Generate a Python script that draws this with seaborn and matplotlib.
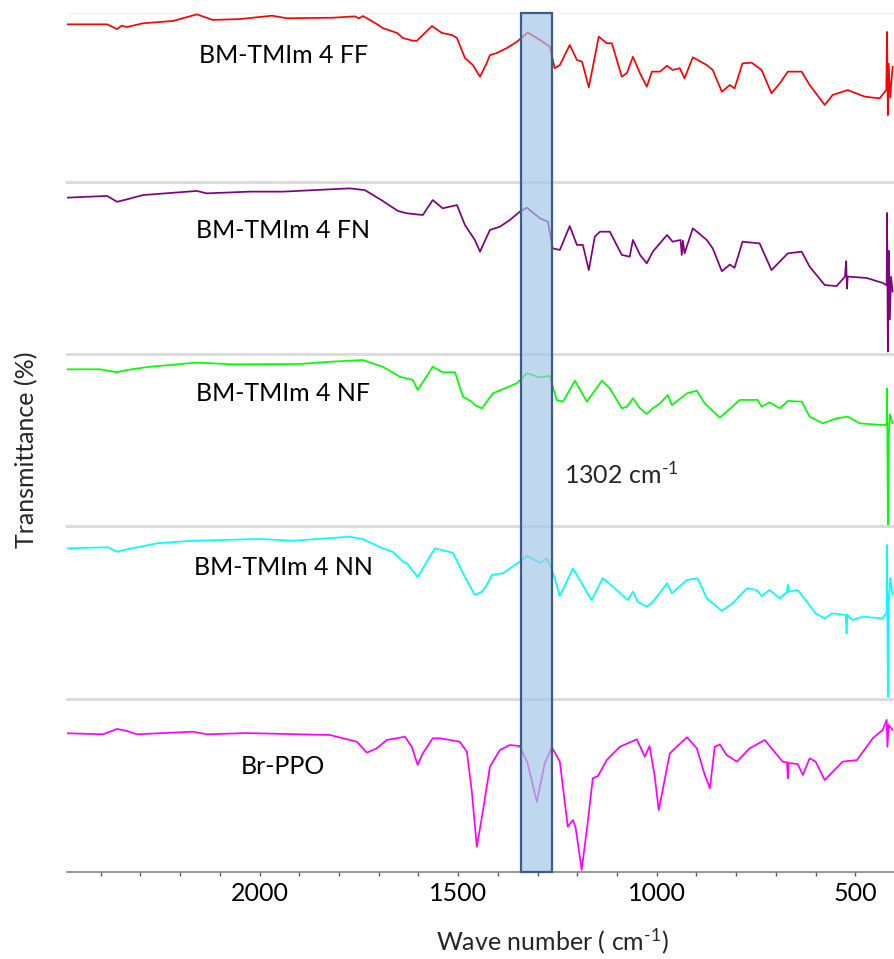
import matplotlib
matplotlib.use("Agg")
import matplotlib.pyplot as plt
import seaborn as sns
import pandas as pd
from matplotlib.patches import Rectangle
from matplotlib.transforms import blended_transform_factory

# ---- FTIR spectra (wavenumber in cm-1, relative transmittance per panel) ----
ff_wn = [2485, 2384, 2359, 2347, 2334, 2294, 2218, 2158, 2118, 2050, 1969, 1931, 1816, 1760, 1750,
         1740, 1730, 1705, 1690, 1654, 1639, 1614, 1604, 1589, 1566, 1541, 1516, 1503, 1483, 1463,
         1445, 1428, 1420, 1403, 1377, 1352, 1325, 1294, 1269, 1257, 1244, 1219, 1201, 1188, 1171,
         1146, 1126, 1113, 1088, 1075, 1060, 1042, 1025, 1012, 992, 974, 960, 942, 930, 909,
         874, 859, 836, 816, 804, 784, 761, 736, 711, 690, 670, 635, 615, 577, 557,
         519, 476, 439, 422, 420, 418, 416, 412, 406]
ff_t = [93.3, 93.3, 90.5, 92.5, 91.7, 93.9, 95.3, 99.2, 95.9, 96.4, 98.4, 96.9, 97.2, 98.0, 96.8,
        98.2, 96.9, 93.5, 91.1, 88.2, 85.2, 83.6, 83.6, 87.0, 92.3, 88.2, 87.0, 85.2, 73.4, 69.2,
        62.3, 70.4, 75.1, 76.3, 79.3, 83.0, 88.5, 84.0, 80.1, 67.3, 69.2, 81.1, 72.2, 71.2, 56.0,
        86.0, 82.1, 82.1, 62.3, 64.5, 74.1, 64.3, 56.4, 65.3, 65.3, 68.8, 66.3, 67.3, 61.4, 73.8,
        69.2, 66.3, 53.4, 57.4, 55.4, 70.2, 70.6, 66.3, 52.5, 58.4, 65.3, 65.3, 57.4, 45.6, 51.5,
        54.4, 50.5, 49.5, 54.4, 88.8, 39.6, 70.0, 50.0, 68.2]

fn_wn = [2485, 2384, 2359, 2334, 2294, 2158, 2133, 2024, 1941, 1773, 1735, 1690, 1652, 1629, 1589,
         1564, 1539, 1503, 1483, 1458, 1445, 1428, 1420, 1395, 1370, 1345, 1327, 1294, 1274, 1262,
         1244, 1219, 1201, 1186, 1171, 1156, 1143, 1118, 1088, 1068, 1060, 1042, 1025, 1010, 974,
         960, 940, 937, 934, 930, 909, 874, 859, 836, 816, 804, 784, 741, 711, 670,
         635, 615, 577, 547, 526, 523, 521, 519, 471, 431, 421, 420, 418, 416, 413,
         410, 406]
fn_t = [90.9, 91.9, 88.5, 89.9, 92.4, 94.8, 93.4, 94.4, 94.4, 96.3, 95.3, 89.0, 83.2, 81.8, 80.8,
        89.5, 84.7, 86.6, 75.0, 66.3, 59.5, 68.2, 72.1, 74.0, 77.9, 82.7, 85.1, 78.9, 76.9, 61.4,
        60.5, 74.4, 63.4, 63.4, 48.8, 68.2, 71.1, 71.1, 57.6, 56.6, 66.3, 57.6, 52.7, 59.5, 69.2,
        65.3, 66.3, 57.6, 66.0, 58.5, 73.1, 66.3, 61.4, 48.1, 52.0, 50.1, 65.3, 64.3, 48.8, 58.5,
        59.5, 50.8, 40.1, 39.5, 45.0, 54.0, 38.0, 45.0, 44.2, 41.3, 40.0, 82.0, 1.4, 60.0, 20.0,
        45.0, 36.2]

nf_wn = [2485, 2402, 2359, 2334, 2276, 2158, 2067, 1899, 1823, 1740, 1690, 1647, 1614, 1602, 1564,
         1539, 1508, 1488, 1466, 1458, 1440, 1413, 1352, 1327, 1294, 1269, 1252, 1236, 1206, 1176,
         1138, 1118, 1088, 1075, 1060, 1042, 1025, 1010, 992, 972, 962, 924, 899, 879, 841,
         791, 746, 736, 716, 690, 670, 635, 615, 582, 547, 519, 489, 431, 421, 420,
         418, 416, 413, 406]
nf_t = [91.1, 91.1, 89.4, 90.7, 92.6, 95.0, 94.0, 94.2, 95.5, 96.5, 92.6, 86.8, 84.9, 79.1, 92.6,
        89.4, 89.4, 75.2, 72.3, 70.3, 68.4, 77.1, 83.0, 88.8, 86.4, 87.2, 73.3, 72.3, 84.5, 72.3,
        84.5, 80.0, 68.4, 69.4, 74.2, 68.4, 65.1, 68.4, 71.3, 76.2, 70.3, 77.1, 78.7, 71.3, 63.0,
        73.3, 73.3, 69.4, 71.9, 68.4, 72.7, 72.3, 63.6, 59.7, 62.6, 63.6, 59.7, 58.7, 59.0, 80.0,
        0.6, 50.0, 65.0, 59.7]

nn_wn = [2485, 2382, 2359, 2334, 2258, 2168, 1999, 1916, 1773, 1740, 1690, 1665, 1639, 1629, 1602,
         1559, 1513, 1488, 1458, 1440, 1428, 1415, 1387, 1345, 1327, 1294, 1277, 1262, 1244, 1211,
         1164, 1136, 1110, 1073, 1060, 1048, 1025, 1010, 974, 962, 924, 897, 874, 836, 809,
         773, 748, 736, 716, 690, 672, 670, 668, 645, 622, 600, 577, 559, 524, 522,
         520, 507, 481, 431, 421, 420, 418, 416, 412, 406]
nn_t = [87.1, 87.7, 85.1, 86.5, 90.0, 91.5, 92.5, 91.5, 93.8, 92.4, 87.1, 85.1, 79.4, 78.4, 70.5,
        87.1, 84.5, 72.7, 60.1, 62.0, 65.9, 71.7, 72.7, 79.4, 82.7, 78.8, 81.3, 73.6, 59.5, 75.5,
        57.2, 69.8, 64.9, 57.2, 62.0, 56.2, 53.4, 56.2, 66.9, 61.1, 68.8, 69.8, 58.2, 51.0, 55.3,
        64.0, 63.0, 59.5, 63.0, 58.2, 62.0, 66.0, 62.0, 63.0, 56.2, 49.5, 46.6, 49.5, 48.6, 38.0,
        48.6, 45.7, 47.6, 46.6, 50.0, 89.0, 1.3, 55.0, 70.0, 60.1]

br_wn = [2485, 2394, 2359, 2334, 2309, 2168, 2133, 2032, 1823, 1790, 1755, 1730, 1705, 1680, 1634,
         1617, 1602, 1589, 1564, 1546, 1521, 1496, 1478, 1466, 1453, 1440, 1420, 1395, 1370, 1345,
         1325, 1302, 1282, 1264, 1244, 1224, 1211, 1204, 1189, 1174, 1161, 1148, 1126, 1093, 1050,
         1030, 1018, 1005, 995, 985, 967, 924, 899, 879, 866, 854, 841, 824, 798, 766,
         728, 683, 672, 670, 668, 645, 632, 615, 600, 577, 532, 496, 456, 431, 421,
         419, 416, 406]
br_t = [80.2, 79.6, 82.7, 81.5, 79.6, 81.1, 79.6, 80.3, 79.2, 77.3, 75.3, 69.0, 71.5, 76.3, 78.2,
        72.4, 61.9, 68.6, 77.3, 77.3, 76.3, 75.3, 69.5, 47.4, 14.6, 32.0, 60.9, 70.5, 73.4, 72.8,
        62.8, 40.6, 62.8, 72.1, 63.8, 26.2, 30.1, 25.3, 1.2, 28.2, 54.2, 55.5, 64.7, 72.4, 76.7,
        66.6, 72.8, 55.1, 35.8, 47.4, 68.6, 77.9, 71.5, 56.1, 48.4, 72.4, 73.8, 67.6, 63.8, 71.5,
        76.3, 63.8, 63.5, 54.2, 63.0, 62.4, 56.1, 65.7, 63.8, 53.2, 63.8, 64.7, 77.3, 82.1, 87.9,
        72.4, 85.0, 82.1]

sample_names = ["BM-TMIm 4 FF", "BM-TMIm 4 FN", "BM-TMIm 4 NF", "BM-TMIm 4 NN", "Br-PPO"]
sample_colors = ["#FF0000", "#800080", "#00FF00", "#00FFFF", "#FF00FF"]
wavenumbers = [ff_wn, fn_wn, nf_wn, nn_wn, br_wn]
transmittance = [ff_t, fn_t, nf_t, nn_t, br_t]

band_hi, band_lo = 1343, 1263          # highlighted region around 1302 cm-1
band_label = r"1302 cm$^{\text{-}1}$"
x_ticks = [2000, 1500, 1000, 500]

# ---- styling ----
sns.set_theme(style="white")
plt.rcParams["font.family"] = ["Lato", "DejaVu Sans"]
plt.rcParams["mathtext.fontset"] = "custom"
plt.rcParams["mathtext.rm"] = "Lato"
plt.rcParams["mathtext.it"] = "Lato"
plt.rcParams["mathtext.bf"] = "Lato:bold"

W, H = 895, 959
fig = plt.figure(figsize=(W / 100, H / 100), dpi=100)
gs = fig.add_gridspec(5, 1, left=67 / W, right=1.0, top=1 - 13 / H, bottom=1 - 872 / H,
                      hspace=0, height_ratios=[169, 172, 172, 173, 173])

label_y = [0.704, 0.674, 0.727, 0.717, 0.566]
axes = []
for i in range(5):
    ax = fig.add_subplot(gs[i], sharex=axes[0] if axes else None)
    axes.append(ax)
    df = pd.DataFrame({"wn": wavenumbers[i], "T": transmittance[i]})
    sns.lineplot(data=df, x="wn", y="T", ax=ax, color=sample_colors[i], lw=1.25,
                 sort=False, estimator=None)
    for ln in ax.get_lines():
        ln.set_solid_joinstyle("round")
    ax.set_ylim(0, 100)
    ax.set_xlabel("")
    ax.set_ylabel("")
    ax.set_yticks([])
    for side in ("left", "right"):
        ax.spines[side].set_visible(False)
    ax.spines["top"].set_color("#F2F2F2" if i == 0 else "#DCDCDC")
    ax.spines["top"].set_linewidth(1.0 if i == 0 else 2.2)
    ax.spines["top"].set_zorder(0)
    if i < 4:
        ax.spines["bottom"].set_visible(False)
        ax.tick_params(axis="x", which="both", bottom=False, labelbottom=False)
    ax.text(0.261, label_y[i], sample_names[i], transform=ax.transAxes,
            ha="center", va="baseline", fontsize=18, color="black")

ax_b = axes[-1]
ax_b.set_xlim(2485, 400)
ax_b.set_xticks(x_ticks)
ax_b.set_xticks(range(2400, 399, -100), minor=True)
ax_b.spines["bottom"].set_color("#8C8C8C")
ax_b.spines["bottom"].set_linewidth(1.3)
ax_b.tick_params(axis="x", which="both", bottom=True, direction="out", length=3,
                 width=1.0, color="#595959", labelsize=18, pad=4, labelcolor="black")

# translucent highlight band across all panels
trans = blended_transform_factory(ax_b.transData, fig.transFigure)
band = Rectangle((band_hi, 1 - 872 / H), band_lo - band_hi, (872 - 13) / H,
                 transform=trans, facecolor=(0.63, 0.776, 0.906, 0.68),
                 edgecolor="#3D5C88", lw=1.6, zorder=20, clip_on=False)
fig.add_artist(band)

fig.text(564 / W, 1 - 484 / H, band_label, ha="left", va="baseline", fontsize=18)
fig.text(27 / W, 1 - 450 / H, "Transmittance (%)", rotation=90, ha="center",
         va="center", fontsize=18)
fig.text(552 / W, 1 - 950 / H, r"Wave number ( cm$^{\text{-}1}$)", ha="center",
         va="baseline", fontsize=18)

fig.savefig("out.png", dpi=100)
